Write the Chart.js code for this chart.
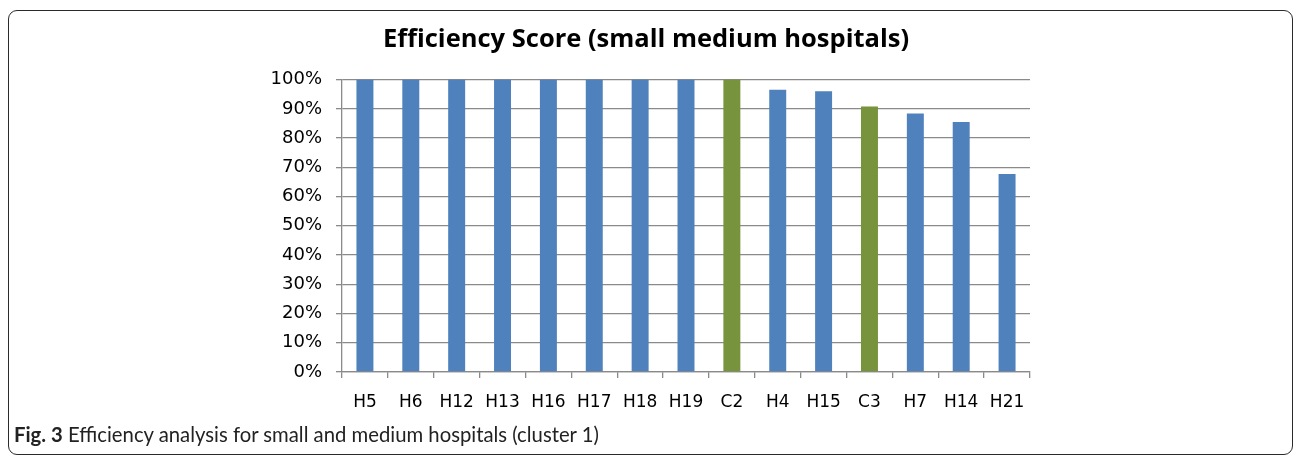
<!DOCTYPE html>
<html>
<head>
<meta charset="utf-8">
<script src="https://cdn.jsdelivr.net/npm/chart.js@4/dist/chart.umd.min.js"></script>
<style>
  html, body { margin: 0; padding: 0; background: #fff; }
  body { width: 1295px; height: 459px; position: relative; overflow: hidden; }
  #frame { position: absolute; left: 8px; top: 10px; width: 1283px; height: 443px;
           border: 1.5px solid #2b2b2b; border-radius: 9px; }
  #wrap { position: absolute; left: 0; top: 0; width: 1295px; height: 459px; }
  #caption { position: absolute; left: 14px; top: 422px; font-family: "Lato", sans-serif;
             font-size: 20.3px; line-height: 24px; color: #222; white-space: nowrap; }
  #caption b { font-weight: 700; }
</style>
</head>
<body>
<div id="frame"></div>
<div id="wrap"><canvas id="c" width="1295" height="459"></canvas></div>
<div id="caption"><b>Fig. 3</b> Efficiency analysis for small and medium hospitals (cluster 1)</div>
<script>
const categories = ["H5","H6","H12","H13","H16","H17","H18","H19","C2","H4","H15","C3","H7","H14","H21"];
const efficiency = [100,100,100,100,100,100,100,100,100,96.5,96.0,90.8,88.4,85.5,67.7];
const yTicks = [0,10,20,30,40,50,60,70,80,90,100];

const blue = "#4F81BD", green = "#77933C";
const barColors = categories.map(c => c.startsWith("C") ? green : blue);
const gridColor = "#8a8a8a";

new Chart(document.getElementById("c"), {
  type: "bar",
  data: {
    labels: categories,
    datasets: [{
      label: "Efficiency Score",
      data: efficiency,
      backgroundColor: barColors,
      borderWidth: 0,
      barPercentage: 0.37,
      categoryPercentage: 1.0
    }]
  },
  options: {
    responsive: false,
    animation: false,
    devicePixelRatio: 1,
    layout: { padding: { left: 262, right: 265, top: 0, bottom: 47 } },
    plugins: {
      legend: { display: false },
      tooltip: { enabled: false },
      title: {
        display: true,
        text: "Efficiency Score (small medium hospitals)",
        color: "#000",
        font: { family: "Open Sans", size: 25.5, weight: "bold" },
        padding: { top: 24, bottom: 25 }
      }
    },
    scales: {
      x: {
        grid: { display: true, drawOnChartArea: false, drawTicks: true, tickLength: 6, color: gridColor, lineWidth: 1.3, offset: true },
        border: { display: true, color: gridColor, width: 1.3 },
        ticks: { color: "#000", padding: 14, font: { family: "DejaVu Sans", size: 17 }, maxRotation: 0, autoSkip: false },
        afterFit: s => { s.height = 40; }
      },
      y: {
        min: 0, max: 100,
        afterBuildTicks: s => { s.ticks = yTicks.map(v => ({ value: v })); },
        grid: { color: gridColor, lineWidth: 1.3, tickLength: 6, drawTicks: true },
        border: { display: true, color: gridColor, width: 1.3 },
        ticks: { color: "#000", padding: 14, font: { family: "DejaVu Sans", size: 18 }, callback: v => v + "%" },
        afterFit: s => { s.width = 80; }
      }
    }
  }
});
</script>
</body>
</html>
